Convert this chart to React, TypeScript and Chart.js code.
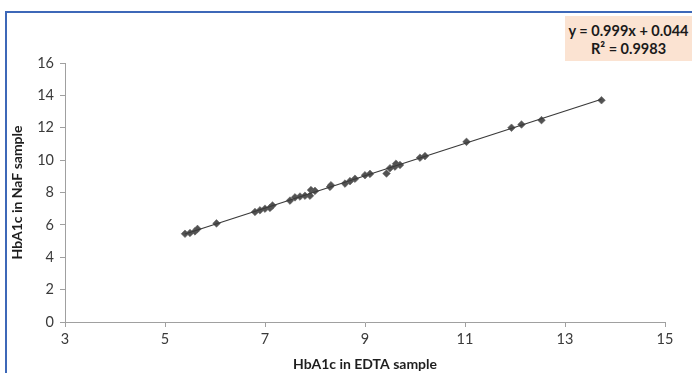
import React, { useEffect, useRef } from "react";
import { Chart, registerables } from "chart.js";

Chart.register(...registerables);

const edtaValues = [
  5.4, 5.5, 5.6, 5.65, 6.03, 6.8, 6.9, 7.0, 7.1, 7.15, 7.5, 7.6, 7.7, 7.8, 7.9, 7.92, 8.0,
  8.3, 8.32, 8.6, 8.7, 8.8, 9.0, 9.1, 9.43, 9.5, 9.6, 9.62, 9.7, 10.1, 10.2, 11.03, 11.93,
  12.13, 12.53, 13.73,
];
const nafValues = [
  5.45, 5.5, 5.6, 5.75, 6.09, 6.8, 6.9, 7.0, 7.05, 7.2, 7.5, 7.7, 7.75, 7.8, 7.8, 8.15, 8.1,
  8.35, 8.45, 8.55, 8.7, 8.85, 9.07, 9.15, 9.17, 9.5, 9.6, 9.78, 9.7, 10.15, 10.25, 11.13,
  12.0, 12.2, 12.47, 13.7,
];
const trendX = [5.4, 13.73];
const slope = 0.999;
const intercept = 0.044;
const xTicks = [3, 5, 7, 9, 11, 13, 15];
const yTicks = [0, 2, 4, 6, 8, 10, 12, 14, 16];
const equationLines = ["y = 0.999x + 0.044", "R² = 0.9983"];

export default function App() {
  const ref = useRef<HTMLCanvasElement>(null);
  useEffect(() => {
    if (!ref.current) return;
    const font = "Lato, 'Open Sans', sans-serif";
    const chart = new Chart(ref.current, {
      type: "scatter",
      data: {
        datasets: [
          {
            type: "line",
            data: trendX.map((x) => ({ x, y: slope * x + intercept })),
            borderColor: "#3a3a3a",
            borderWidth: 1.2,
            pointRadius: 0,
            fill: false,
          },
          {
            data: edtaValues.map((x, i) => ({ x, y: nafValues[i] })),
            pointStyle: "rectRot",
            pointRadius: 3.8,
            backgroundColor: "#525252",
            borderColor: "#606060",
            borderWidth: 0.6,
          },
        ],
      },
      options: {
        animation: false,
        responsive: false,
        plugins: { legend: { display: false }, tooltip: { enabled: false } },
        layout: { padding: { left: 0, top: 63, right: 27, bottom: 0 } },
        scales: {
          x: {
            type: "linear",
            min: 3,
            max: 15,
            afterBuildTicks: (s: any) => {
              s.ticks = xTicks.map((v) => ({ value: v }));
            },
            afterFit: (s: any) => {
              s.height = 51;
            },
            grid: { drawOnChartArea: false, drawTicks: true, tickLength: 5, color: "#a0a0a0" },
            border: { display: true, color: "#a0a0a0" },
            ticks: { color: "#3a3a3a", font: { family: font, size: 14.5 }, padding: 4 },
            title: {
              display: true,
              text: "HbA1c in EDTA sample",
              color: "#1e1e1e",
              font: { family: font, size: 14, weight: "bold" },
              padding: { top: 3, bottom: 0 },
            },
          },
          y: {
            type: "linear",
            min: 0,
            max: 16,
            afterBuildTicks: (s: any) => {
              s.ticks = yTicks.map((v) => ({ value: v }));
            },
            afterFit: (s: any) => {
              s.width = 65;
            },
            grid: { drawOnChartArea: false, drawTicks: true, tickLength: 5, color: "#a0a0a0" },
            border: { display: true, color: "#a0a0a0" },
            ticks: { color: "#3a3a3a", font: { family: font, size: 14.5 }, padding: 6 },
            title: {
              display: true,
              text: "HbA1c in NaF sample",
              color: "#1e1e1e",
              font: { family: font, size: 14, weight: "bold" },
              padding: { top: 9, bottom: 0 },
            },
          },
        },
      },
    } as any);
    return () => chart.destroy();
  }, []);

  return (
    <div style={{ position: "fixed", left: 0, top: 0, width: 692, height: 373, background: "#fff", overflow: "hidden" }}>
      <canvas ref={ref} width={692} height={373} style={{ position: "absolute", left: 0, top: 0 }} />
      <div
        style={{
          position: "absolute",
          left: 5,
          top: 11,
          width: 700,
          height: 400,
          borderLeft: "2px solid #3d68b8",
          borderTop: "2px solid #3d68b8",
          pointerEvents: "none",
        }}
      />
      <div
        style={{
          position: "absolute",
          left: 565,
          top: 16,
          width: 127,
          height: 45,
          background: "#fbe3d2",
          fontFamily: "Lato, 'Open Sans', sans-serif",
          fontWeight: "bold",
          fontSize: 14.5,
          color: "#1a1a1a",
          textAlign: "center",
          lineHeight: "18px",
          paddingTop: 6,
          boxSizing: "border-box",
          whiteSpace: "nowrap",
        }}
      >
        {equationLines.map((l, i) => (
          <div key={i}>{l}</div>
        ))}
      </div>
    </div>
  );
}
